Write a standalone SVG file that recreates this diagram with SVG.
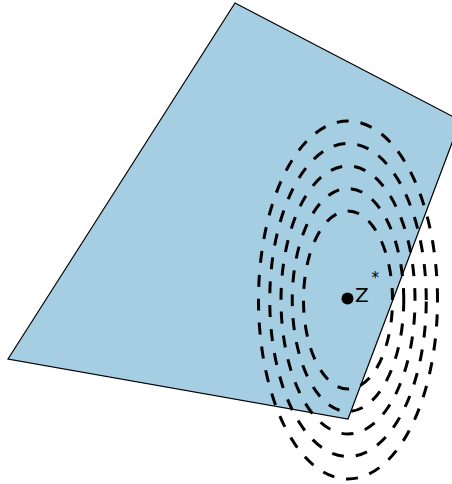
<svg xmlns="http://www.w3.org/2000/svg" width="452" height="484" viewBox="0 0 452 484">
<style>
.plane{fill:#a6cee3;stroke:#000;stroke-width:1.2;stroke-linejoin:miter}
.lvl{fill:none;stroke:#000;stroke-width:3;stroke-dasharray:12 12}
.lbl{font-family:"DejaVu Sans",sans-serif;fill:#000}
</style>
<rect width="452" height="484" fill="#fff"/>
<g id="plane"><polygon class="plane" points="235,3 460.5,120.5 348,419 8,359"/></g>
<g id="levels">
<path class="lvl" d="M392.5,300 A44.5,89 0 1 0 303.5,300 A44.5,89 0 1 0 392.5,300"/>
<path class="lvl" d="M403.75,300 A55.75,111.5 0 1 0 292.25,300 A55.75,111.5 0 1 0 403.75,300"/>
<path class="lvl" d="M415,300 A67,134 0 1 0 281,300 A67,134 0 1 0 415,300"/>
<path class="lvl" d="M426.25,300 A78.25,156.5 0 1 0 269.75,300 A78.25,156.5 0 1 0 426.25,300"/>
<path class="lvl" d="M437.5,300 A89.5,179 0 1 0 258.5,300 A89.5,179 0 1 0 437.5,300"/>
</g>
<g id="zstar">
<circle cx="347.5" cy="298.5" r="6" fill="#000"/>
<text class="lbl" x="355" y="301.5" font-size="20">Z</text>
<text class="lbl" x="371.5" y="283" font-size="15">*</text>
</g>
</svg>
